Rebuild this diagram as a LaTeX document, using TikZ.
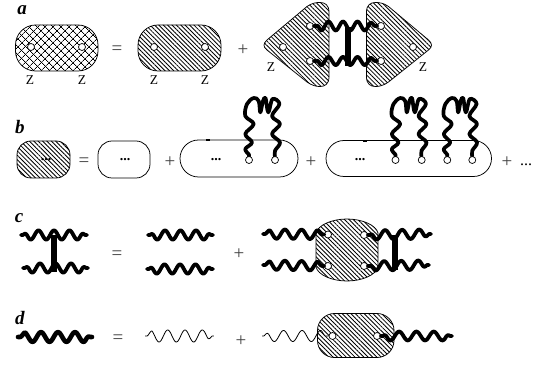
\documentclass[tikz,border=0pt]{standalone}
\usepackage{fontspec}
\setmainfont{Liberation Serif}
\usetikzlibrary{patterns.meta,calc}
\tikzset{
  outl/.style={draw=black,line width=.75pt},
  hatched/.style={outl,pattern={Lines[angle=-45,distance=3.1pt,line width=.85pt]}},
  crossed/.style={outl,pattern={Lines[angle=-45,distance=5.4pt,line width=.8pt]},postaction={pattern={Lines[angle=45,distance=5.4pt,line width=.8pt]}}},
  port/.style={circle,draw=black,fill=white,line width=.7pt,minimum size=7pt,inner sep=0pt},
  panel/.style={font=\bfseries\itshape\fontsize{19}{19}\selectfont,inner sep=0pt},
  zed/.style={font=\fontsize{13.5}{13.5}\selectfont,inner sep=0pt},
  op/.style={font=\fontsize{19}{19}\selectfont,text=black!75,inner sep=0pt},
  bdots/.style={font=\bfseries\fontsize{14}{14}\selectfont,inner sep=0pt},
  wv/.style={line width=3.8pt,line cap=round,line join=round},
  wvd/.style={line width=4.6pt,line cap=round,line join=round},
  wvt/.style={line width=.8pt,line join=round},
  bar/.style={line width=5.4pt},
  loopw/.style={line width=3.7pt,line cap=round,line join=round},
  tick/.style={line width=1.6pt},
}
% \wavy{style}{from}{to}{period}{amplitude}{phase}
\newcommand{\wavy}[6]{%
 \draw[#1] let \p1=(#2),\p2=(#3),\n1={\x2-\x1} in
  plot[variable=\t,domain=0:1,samples=110]
  ({\x1+\n1*\t},{\y1+(\y2-\y1)*\t+#5*cos(360*(\n1*(\t-0.5)-(#6))/#4)*max(0,min(1,(min(\n1*\t,\n1*(1-\t))-2)/5))});}
\newcommand{\strandloop}[2]{%
 \draw[loopw,shift={(#1)}] plot[smooth,tension=.6,xscale=#2] coordinates {(0,-3.5)(0,-5.3)(-3.7,-11)(3,-17.6)(-3.7,-26)(4.7,-36)(-3.7,-44)(-2,-56)(4.7,-62)(9.7,-59)(11.3,-47.6)(14,-59)(16.5,-62)(19.3,-47.6)(23.5,-61)(30.5,-56)(23,-44)(31,-36)(23,-26)(31,-17.6)(26,-9.3)(26,-3.5)};}
\begin{document}
\begin{tikzpicture}[x=1pt,y=-1pt]
\useasboundingbox (0,0) rectangle (544,366);
% panel a
\node[panel] (la) at (22,10) {a};
\path[crossed,rounded corners=20pt] (15.5,25) rectangle (98,71);
\node[port] (a1) at (31,47) {}; \node[port] (a2) at (82,47) {};
\node[zed] (za1) at (30,80) {Z}; \node[zed] (za2) at (82,80) {Z};
\node[op] (eqa) at (117,50) {=};
\path[hatched,rounded corners=20pt] (138,25) rectangle (221,71);
\node[port] (a3) at (154,47) {}; \node[port] (a4) at (205,47) {};
\node[zed] (za3) at (154,80) {Z}; \node[zed] (za4) at (205,80) {Z};
\node[op] (pa) at (243,50) {+};
\path[hatched] (329,12) .. controls (329,5) and (325,2.5) .. (320,2.5) .. controls (316,2.5) and (312,3) .. (307,6.5) -- (267,40) .. controls (263,43.5) and (263,47) .. (267,50) -- (307,82) .. controls (312,85.5) and (316,86.5) .. (320,86.5) .. controls (325,86.5) and (329,84) .. (329,77) -- cycle;
\path[hatched] (366.5,12) .. controls (366.5,5) and (370.5,2.5) .. (375.5,2.5) .. controls (379.5,2.5) and (383.5,3) .. (388.5,6.5) -- (428.5,40) .. controls (432.5,43.5) and (432.5,47) .. (428.5,50) -- (388.5,82) .. controls (383.5,85.5) and (379.5,86.5) .. (375.5,86.5) .. controls (370.5,86.5) and (366.5,84) .. (366.5,77) -- cycle;
\coordinate (bt) at (348,27); \coordinate (bb) at (348,66);
\draw[bar] (bt) -- (bb);
\node[port] (t1) at (310,26) {}; \node[port] (t2) at (310,61) {}; \node[port] (t3) at (283,47) {};
\node[port] (t4) at (381,26) {}; \node[port] (t5) at (381,61) {}; \node[port] (t6) at (413,47) {};
\wavy{wv}{t1.east}{t4.west}{14.5}{4.4}{-2.5}
\wavy{wv}{t2.east}{t5.west}{14.5}{4}{-2.5}
\node[zed] (za5) at (271,67) {Z}; \node[zed] (za6) at (423,67) {Z};
% panel b
\node[panel] (lb) at (20,127) {b};
\path[hatched,rounded corners=14pt] (17,141) rectangle (70,178);
\node[bdots] (d1) at (46,160) {...};
\node[op] (eqb) at (84,162) {=};
\path[outl,rounded corners=14pt] (98,141) rectangle (150,178);
\node[bdots] (d2) at (125,160) {...};
\node[op] (pb1) at (170,162) {+};
\path[outl,rounded corners=18.5pt] (180,140) rectangle (298,177);
\coordinate (m1a) at (206,140.3); \coordinate (m1b) at (210,140.3);
\draw[tick] (m1a) -- (m1b);
\node[bdots] (d3) at (216,160) {...};
\strandloop{249,160}{1}
\node[port] (b1) at (249,160) {}; \node[port] (b2) at (275,160) {};
\node[op] (pb2) at (311,162) {+};
\path[outl,rounded corners=18pt] (326,140.5) rectangle (491.5,176.5);
\coordinate (m2a) at (363,140.8); \coordinate (m2b) at (367,140.8);
\draw[tick] (m2a) -- (m2b);
\node[bdots] (d4) at (360,159.5) {...};
\strandloop{395.5,160}{1}
\strandloop{447.3,160}{0.96}
\node[port] (b3) at (395.5,160) {}; \node[port] (b4) at (421.7,160) {};
\node[port] (b5) at (447.3,160) {}; \node[port] (b6) at (472.3,160) {};
\node[op] (pb3) at (507,162) {+};
\node[font=\fontsize{16}{16}\selectfont,inner sep=0pt] (d5) at (526,165) {...};
% panel c
\node[panel] (lc) at (19,218) {c};
\coordinate (c1) at (21,235); \coordinate (c2) at (87,235);
\coordinate (c3) at (23,268); \coordinate (c4) at (88,268);
\coordinate (c5) at (54,235); \coordinate (c6) at (54,272);
\draw[bar] (c5) -- (c6);
\wavy{wv}{c1}{c2}{15.5}{4.6}{0}
\wavy{wv}{c3}{c4}{15.5}{4.6}{0}
\node[op] (eqc) at (117,255) {=};
\coordinate (c7) at (148,235); \coordinate (c8) at (213,235);
\coordinate (c9) at (147,269); \coordinate (c10) at (213,269);
\wavy{wv}{c7}{c8}{15.5}{4.6}{0}
\wavy{wv}{c9}{c10}{15.5}{4.6}{0}
\node[op] (pc) at (239,254) {+};
\path[hatched] (316,233) .. controls (318,225) and (332,219) .. (347,219) .. controls (362,219) and (376,225) .. (378,233) -- (378,267) .. controls (376,275) and (362,281) .. (347,281) .. controls (332,281) and (318,275) .. (316,267) -- cycle;
\coordinate (c11) at (263,234); \coordinate (c12) at (263,265);
\coordinate (c13) at (431,234); \coordinate (c14) at (429,265);
\coordinate (c15) at (395,235); \coordinate (c16) at (395,270);
\draw[bar] (c15) -- (c16);
\node[port] (k1) at (328,234.5) {}; \node[port] (k2) at (364,235) {};
\node[port] (k3) at (328,266) {}; \node[port] (k4) at (364,266) {};
\wavy{wv}{c11}{k1.west}{16.7}{4.6}{8}
\wavy{wv}{c12}{k3.west}{16.7}{4.6}{8}
\wavy{wv}{k2.east}{c13}{17}{4.6}{2.7}
\wavy{wv}{k4.east}{c14}{17}{4.6}{2.7}
% panel d
\node[panel] (ld) at (20,318) {d};
\coordinate (e1) at (18,337); \coordinate (e2) at (92,337);
\wavy{wvd}{e1}{e2}{17}{4.8}{3}
\node[op] (eqd) at (118,339) {=};
\coordinate (e3) at (145,336); \coordinate (e4) at (214,336);
\wavy{wvt}{e3}{e4}{17.3}{6}{5.5}
\node[op] (pd) at (241,341) {+};
\path[hatched,rounded corners=17pt] (317.5,313.5) rectangle (394,357.5);
\coordinate (m3a) at (333,313.7); \coordinate (m3b) at (337,313.7);
\draw[tick] (m3a) -- (m3b);
\coordinate (e5) at (262,336); \coordinate (e6) at (452,336);
\node[port] (f1) at (332.5,336) {}; \node[port] (f2) at (377,336) {};
\wavy{wvt}{e5}{f1.west}{18.5}{5.5}{-11.75}
\wavy{wv}{f2.east}{e6}{17.3}{4.4}{0}
\end{tikzpicture}
\end{document}
